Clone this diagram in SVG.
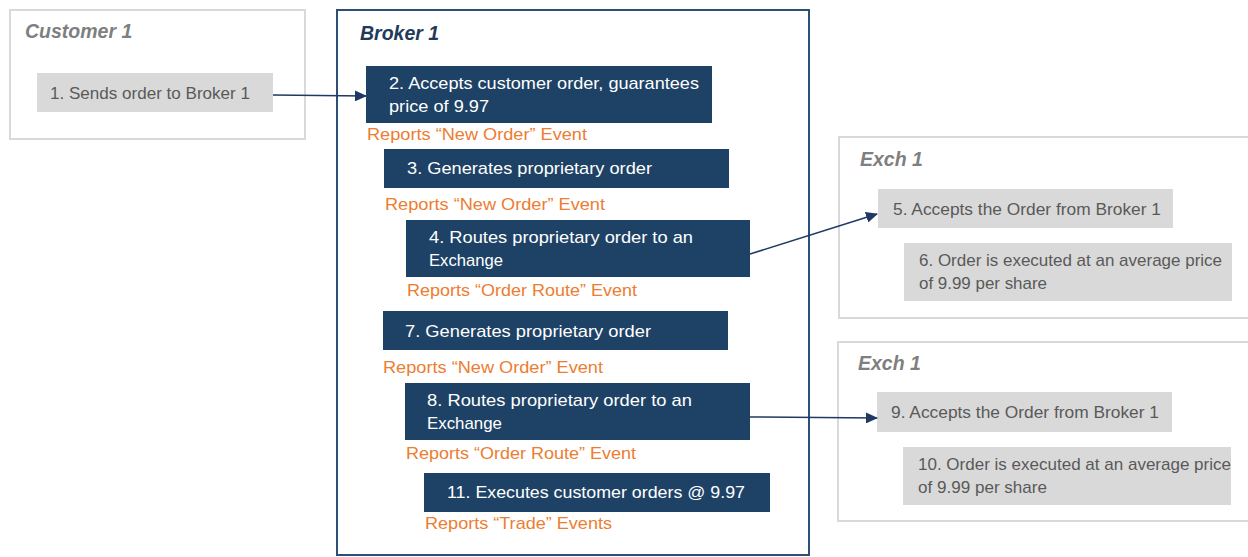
<svg xmlns="http://www.w3.org/2000/svg" width="1248" height="557" viewBox="0 0 1248 557">
<defs>
<style>
.cont{fill:#fff;stroke:#d9d9d9;stroke-width:2}
.broker{fill:#fff;stroke:#2b4f77;stroke-width:2}
.ttl{font-family:"Liberation Sans",Arial,sans-serif;font-weight:bold;font-style:italic;font-size:19.5px;fill:#7f7f7f}
.ttlb{font-family:"Liberation Sans",Arial,sans-serif;font-weight:bold;font-style:italic;font-size:19.5px;fill:#1f3a5a}
.g{fill:#d9d9d9}
.n{fill:#1e4266}
.gt{font-family:"Liberation Sans",Arial,sans-serif;font-size:17px;fill:#595959}
.nt{font-family:"Liberation Sans",Arial,sans-serif;font-size:17px;fill:#ffffff}
.ot{font-family:"Liberation Sans",Arial,sans-serif;font-size:17px;fill:#ed7d31}
.c{fill:none;stroke:#1f3864;stroke-width:1.5}
</style>
<marker id="ah" markerWidth="12" markerHeight="11" refX="11" refY="5.5" orient="auto" markerUnits="userSpaceOnUse">
<path d="M0,0 L12,5.5 L0,11 Z" fill="#1f3864"/>
</marker>
</defs>

<g id="customer1">
<rect class="cont" x="10" y="10" width="295" height="129"/>
<text class="ttl" x="25" y="38">Customer 1</text>
</g>
<g id="node1">
<rect class="g" x="37" y="73" width="236" height="39"/>
<text class="gt" x="50" y="99" textLength="200" lengthAdjust="spacingAndGlyphs">1. Sends order to Broker 1</text>
</g>

<g id="broker1">
<rect class="broker" x="337" y="10" width="472" height="545"/>
<text class="ttlb" x="360" y="40">Broker 1</text>
</g>
<g id="node2">
<rect class="n" x="366" y="66" width="346" height="57"/>
<text class="nt" x="389" y="89" textLength="310" lengthAdjust="spacingAndGlyphs">2. Accepts customer order, guarantees</text>
<text class="nt" x="389" y="112" textLength="100" lengthAdjust="spacingAndGlyphs">price of 9.97</text>
<text class="ot" x="367" y="140" textLength="220" lengthAdjust="spacingAndGlyphs">Reports “New Order” Event</text>
</g>
<g id="node3">
<rect class="n" x="384" y="149" width="345" height="39"/>
<text class="nt" x="407" y="174" textLength="245" lengthAdjust="spacingAndGlyphs">3. Generates proprietary order</text>
<text class="ot" x="385" y="210" textLength="220" lengthAdjust="spacingAndGlyphs">Reports “New Order” Event</text>
</g>
<g id="node4">
<rect class="n" x="406" y="220" width="344" height="57"/>
<text class="nt" x="429" y="243" textLength="264" lengthAdjust="spacingAndGlyphs">4. Routes proprietary order to an</text>
<text class="nt" x="429" y="266" textLength="74" lengthAdjust="spacingAndGlyphs">Exchange</text>
<text class="ot" x="407" y="296" textLength="230" lengthAdjust="spacingAndGlyphs">Reports “Order Route” Event</text>
</g>
<g id="node7">
<rect class="n" x="383" y="311" width="345" height="39"/>
<text class="nt" x="405" y="337" textLength="246" lengthAdjust="spacingAndGlyphs">7. Generates proprietary order</text>
<text class="ot" x="383" y="373" textLength="220" lengthAdjust="spacingAndGlyphs">Reports “New Order” Event</text>
</g>
<g id="node8">
<rect class="n" x="405" y="383" width="345" height="57"/>
<text class="nt" x="427" y="406" textLength="265" lengthAdjust="spacingAndGlyphs">8. Routes proprietary order to an</text>
<text class="nt" x="427" y="429" textLength="75" lengthAdjust="spacingAndGlyphs">Exchange</text>
<text class="ot" x="406" y="459" textLength="230" lengthAdjust="spacingAndGlyphs">Reports “Order Route” Event</text>
</g>
<g id="node11">
<rect class="n" x="424" y="473" width="346" height="39"/>
<text class="nt" x="447" y="498" textLength="298" lengthAdjust="spacingAndGlyphs">11. Executes customer orders @ 9.97</text>
<text class="ot" x="425" y="529" textLength="187" lengthAdjust="spacingAndGlyphs">Reports “Trade” Events</text>
</g>

<g id="exch1a">
<rect class="cont" x="839" y="137" width="420" height="181"/>
<text class="ttl" x="860" y="166">Exch 1</text>
</g>
<g id="node5">
<rect class="g" x="878" y="189" width="295" height="39"/>
<text class="gt" x="893" y="215" textLength="268" lengthAdjust="spacingAndGlyphs">5. Accepts the Order from Broker 1</text>
</g>
<g id="node6">
<rect class="g" x="904" y="243" width="328" height="58"/>
<text class="gt" x="919" y="266" textLength="303" lengthAdjust="spacingAndGlyphs">6. Order is executed at an average price</text>
<text class="gt" x="919" y="289" textLength="128" lengthAdjust="spacingAndGlyphs">of 9.99 per share</text>
</g>

<g id="exch1b">
<rect class="cont" x="838" y="342" width="420" height="179"/>
<text class="ttl" x="858" y="370">Exch 1</text>
</g>
<g id="node9">
<rect class="g" x="877" y="392" width="295" height="40"/>
<text class="gt" x="891" y="418" textLength="268" lengthAdjust="spacingAndGlyphs">9. Accepts the Order from Broker 1</text>
</g>
<g id="node10">
<rect class="g" x="903" y="447" width="328" height="58"/>
<text class="gt" x="918" y="470" textLength="313" lengthAdjust="spacingAndGlyphs">10. Order is executed at an average price</text>
<text class="gt" x="918" y="493" textLength="129" lengthAdjust="spacingAndGlyphs">of 9.99 per share</text>
</g>

<g id="connectors">
<line class="c" x1="273" y1="95" x2="366" y2="96" marker-end="url(#ah)"/>
<line class="c" x1="750" y1="254" x2="877" y2="214" marker-end="url(#ah)"/>
<line class="c" x1="750" y1="417" x2="877" y2="418" marker-end="url(#ah)"/>
</g>
</svg>
